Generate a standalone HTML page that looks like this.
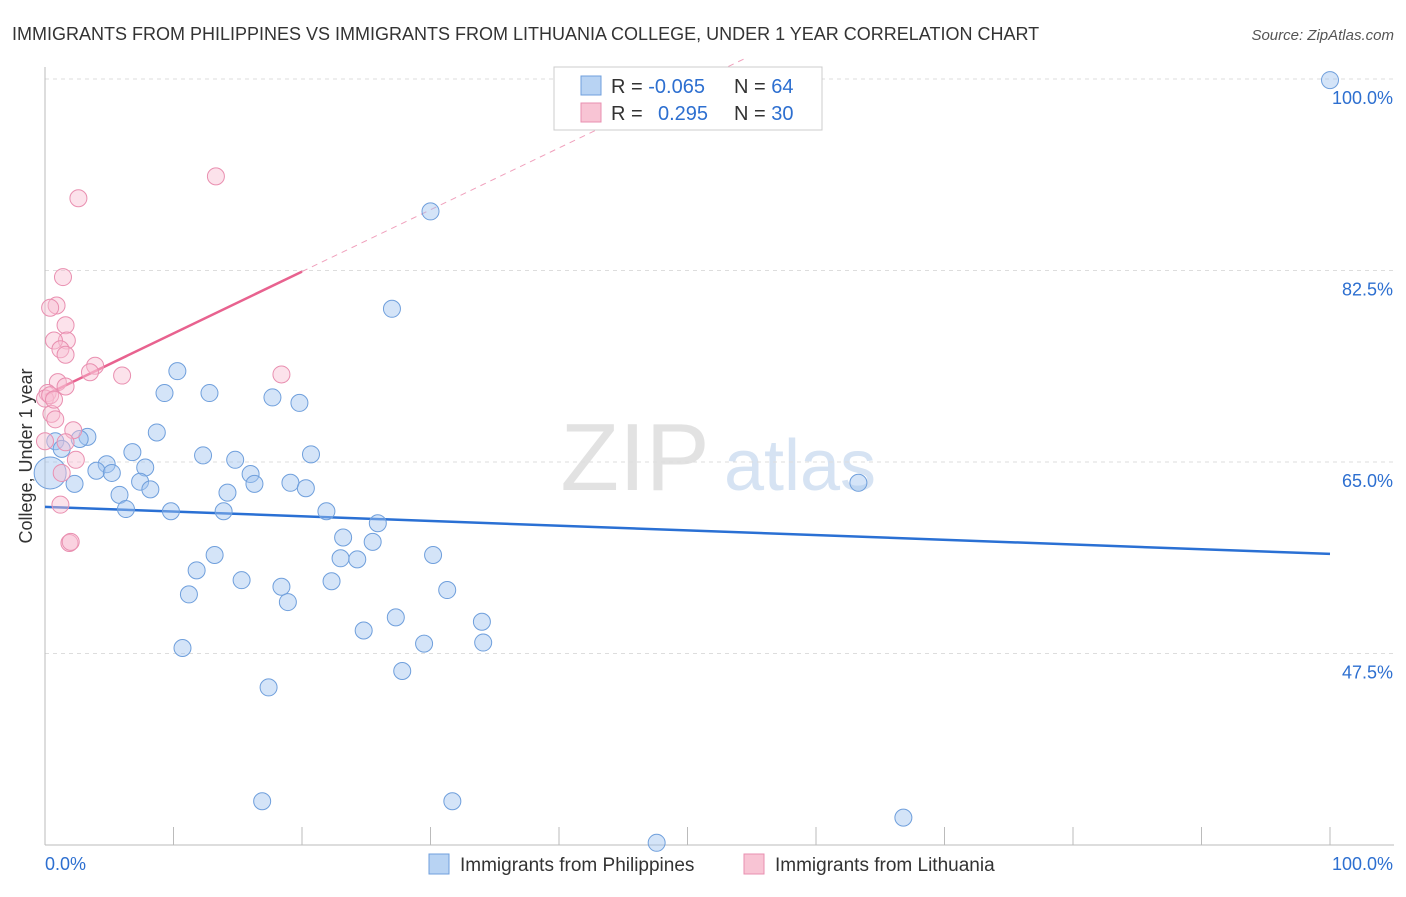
<!DOCTYPE html>
<html><head><meta charset="utf-8"><style>
body{margin:0;background:#fff;font-family:"Liberation Sans",sans-serif;}
svg text{font-family:"Liberation Sans",sans-serif;}
</style></head><body>
<svg id="chart" width="1406" height="892">
<text x="12" y="40" font-size="18" fill="#333">IMMIGRANTS FROM PHILIPPINES VS IMMIGRANTS FROM LITHUANIA COLLEGE, UNDER 1 YEAR CORRELATION CHART</text>
<text x="1394" y="40" font-size="15" fill="#555" text-anchor="end" font-style="italic">Source: ZipAtlas.com</text>
<text x="32" y="456" font-size="18" fill="#333" text-anchor="middle" transform="rotate(-90 32 456)">College, Under 1 year</text>
<g><text x="635" y="490" font-size="96" fill="#e2e2e2" text-anchor="middle" font-family="Liberation Serif">ZIP</text><text x="800" y="490" font-size="72" fill="#d6e3f3" text-anchor="middle">atlas</text></g>
<g id="grid"></g><g id="axes"></g><g id="trends"></g><g id="pts"></g>
<g>
<rect x="554" y="67" width="268" height="63" fill="#fff" stroke="#ccc"/>
<rect x="581" y="76" width="20" height="19" fill="#b8d3f3" stroke="#6f9fdc"/>
<rect x="581" y="103" width="20" height="19" fill="#f8c4d4" stroke="#e98fb0"/>
<text x="611" y="93" font-size="20" fill="#333">R = <tspan fill="#2d6fd0">-0.065</tspan></text>
<text x="734" y="93" font-size="20" fill="#333">N = <tspan fill="#2d6fd0">64</tspan></text>
<text x="611" y="120" font-size="20" fill="#333">R = <tspan fill="#2d6fd0" x="658">0.295</tspan></text>
<text x="734" y="120" font-size="20" fill="#333">N = <tspan fill="#2d6fd0">30</tspan></text>
</g>
<g>
<rect x="429" y="854" width="20" height="20" fill="#b8d3f3" stroke="#6f9fdc"/>
<text x="460" y="871" font-size="19" fill="#333">Immigrants from Philippines</text>
<rect x="744" y="854" width="20" height="20" fill="#f8c4d4" stroke="#e98fb0"/>
<text x="775" y="871" font-size="19" fill="#333">Immigrants from Lithuania</text>
</g>
</svg>
<script>
const yTicks=[100,82.5,65,47.5];
const yTickLabels=["100.0%","82.5%","65.0%","47.5%"];
const xTicks=[0,10,20,30,40,50,60,70,80,90,100];
const xEndLabels=["0.0%","100.0%"];
const phX=[100,30,27,10.3,9.3,12.8,17.7,19.8,8.7,3.3,2.7,0.8,1.3,6.8,12.3,20.7,14.8,4.8,7.8,4,5.2,16,2.3,7.4,16.3,19.1,8.2,20.3,14.2,5.8,6.3,9.8,13.9,21.9,63.3,25.9,23.2,25.5,13.2,30.2,23,24.3,11.8,15.3,22.3,18.4,31.3,11.2,18.9,27.3,34,24.8,29.5,34.1,10.7,27.8,17.4,16.9,31.7,66.8,47.6,0.4];
const phY=[99.9,87.9,79,73.3,71.3,71.3,70.9,70.4,67.7,67.3,67.1,66.9,66.2,65.9,65.6,65.7,65.2,64.8,64.5,64.2,64,63.9,63,63.2,63,63.1,62.5,62.6,62.2,62,60.7,60.5,60.5,60.5,63.1,59.4,58.1,57.7,56.5,56.5,56.2,56.1,55.1,54.2,54.1,53.6,53.3,52.9,52.2,50.8,50.4,49.6,48.4,48.5,48,45.9,44.4,34,34,32.5,30.2,64];
const ltX=[2.6,13.3,1.4,0.9,0.4,1.6,1.7,0.7,1.2,1.6,3.9,3.5,6,18.4,1,1.6,0.2,0,0.5,0.8,2.2,1.6,2.4,1.3,1.2,1.9,2,0.4,0.7,0];
const ltY=[89.1,91.1,81.9,79.3,79.1,77.5,76.1,76.1,75.3,74.8,73.8,73.2,72.9,73,72.3,71.9,71.3,70.8,69.4,68.9,67.9,66.8,65.2,64,61.1,57.6,57.7,71.1,70.7,66.9];
const phTrend=[60.9,56.6];
const ltTrend=[71.1,82.4];
const L=45,R=1330,T=79,B=845,VMIN=30,VMAX=100;
const sx=v=>L+(v/100)*(R-L);
const sy=v=>B-(v-VMIN)/(VMAX-VMIN)*(B-T);
const NS="http://www.w3.org/2000/svg";
function mk(tag,attrs,parent){const e=document.createElementNS(NS,tag);for(const k in attrs)e.setAttribute(k,attrs[k]);parent.appendChild(e);return e;}
const grid=document.getElementById('grid'),axes=document.getElementById('axes'),tr=document.getElementById('trends'),pts=document.getElementById('pts');
yTicks.forEach((t,i)=>{
 const g=mk('line',{x1:L,x2:1394,y1:sy(t),y2:sy(t),stroke:'#ddd','stroke-dasharray':'4,4'},grid);
 
 
 const tx=mk('text',{x:1393,y:sy(t)+25,'font-size':18,fill:'#2d6fd0','text-anchor':'end'},axes);
 tx.textContent=yTickLabels[i];
 
 
});
const ya=mk('line',{x1:L,x2:L,y1:67,y2:B,stroke:'#bbb'},axes);


const xa=mk('line',{x1:L,x2:1394,y1:B,y2:B,stroke:'#bbb'},axes);


xTicks.forEach(t=>{
 const l=mk('line',{x1:sx(t),x2:sx(t),y1:827,y2:B,stroke:'#bbb'},axes);
 
 
});
const xl0=mk('text',{x:45,y:870,'font-size':18,fill:'#2d6fd0'},axes);xl0.textContent=xEndLabels[0];


const xl1=mk('text',{x:1393,y:870,'font-size':18,fill:'#2d6fd0','text-anchor':'end'},axes);xl1.textContent=xEndLabels[1];


// trends
const bt=mk('line',{x1:sx(0),y1:sy(phTrend[0]),x2:sx(100),y2:sy(phTrend[1]),stroke:'#2a70d4','stroke-width':2.5},tr);


const slope=(ltTrend[1]-ltTrend[0])/20;
let xEnd=Math.min(100,(102-ltTrend[0])/slope);
const pd=mk('line',{x1:sx(20),y1:sy(ltTrend[1]),x2:sx(xEnd),y2:sy(ltTrend[0]+slope*xEnd),stroke:'#f0a0bc','stroke-width':1,'stroke-dasharray':'6,5'},tr);


const pt=mk('line',{x1:sx(0),y1:sy(ltTrend[0]),x2:sx(20),y2:sy(ltTrend[1]),stroke:'#e8628f','stroke-width':2.5},tr);


phX.forEach((x,i)=>{
 const r=(i===phX.length-1)?16:8.5;
 const c=mk('circle',{cx:sx(x),cy:sy(phY[i]),r:r,fill:'rgba(160,195,240,0.45)',stroke:'#6f9fdc','stroke-width':1},pts);
 
 
});
ltX.forEach((x,i)=>{
 const c=mk('circle',{cx:sx(x),cy:sy(ltY[i]),r:8.5,fill:'rgba(248,190,210,0.45)',stroke:'#e98fb0','stroke-width':1},pts);
 
 
});
</script>
</body></html>
